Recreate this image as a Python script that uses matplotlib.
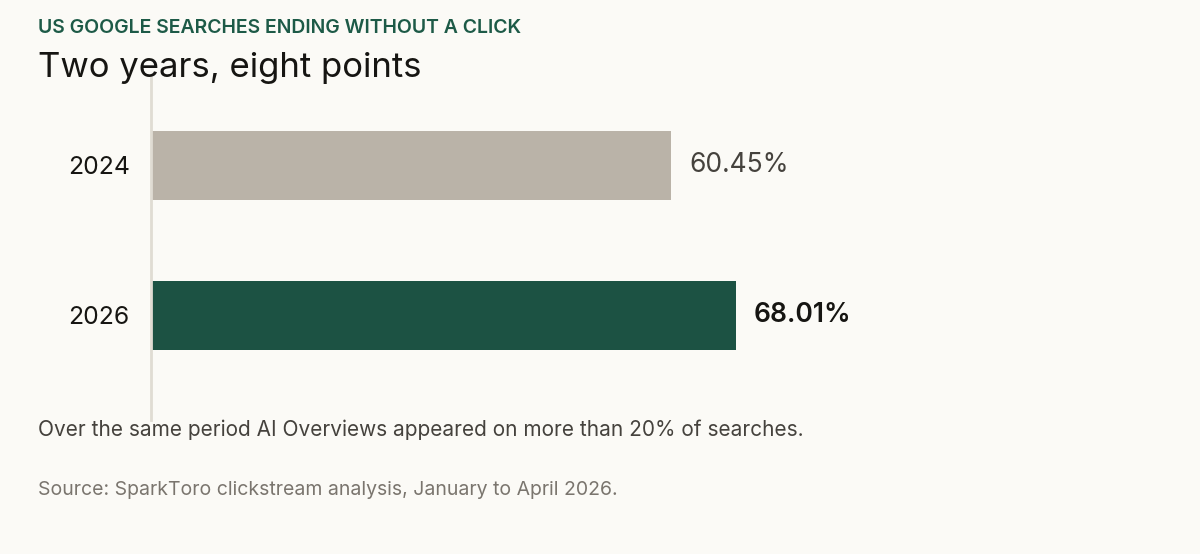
import matplotlib.pyplot as plt
import numpy as np

plt.rcParams['font.family'] = ['Inter', 'DejaVu Sans']

years = ['2024', '2026']
shares = [60.45, 68.01]
bar_colors = ['#bab3a8', '#1c5243']
label_colors = ['#45423d', '#161512']
label_weights = ['normal', 'semibold']

bg = '#fbfaf6'
fig = plt.figure(figsize=(12, 5.54), dpi=100, facecolor=bg)
ax = fig.add_axes([152 / 1200, 134 / 554, 858.6 / 1200, 342 / 554])
ax.set_facecolor(bg)

# spine first, moving it resets the tick labels
for side in ['top', 'right', 'bottom']:
    ax.spines[side].set_visible(False)
ax.spines['left'].set_position(('outward', 1))
ax.spines['left'].set_color('#e0dcd3')
ax.spines['left'].set_linewidth(2)

pos = np.arange(len(years))
ax.barh(pos, shares, height=0.46, color=bar_colors)
ax.set_xlim(0, 100)
ax.set_ylim(1.697, -0.583)

for i, v in enumerate(shares):
    ax.annotate(f'{v:.2f}%', xy=(v, pos[i]), xytext=(13, 0), textcoords='offset points',
                va='center', ha='left', fontsize=19, color=label_colors[i],
                fontweight=label_weights[i])

ax.set_yticks(pos)
ax.set_yticklabels(years, fontsize=17.8, color='#161512')
ax.tick_params(axis='y', length=0, pad=15)
ax.set_xticks([])

fig.text(38 / 1200, 1 - 33 / 554, 'US GOOGLE SEARCHES ENDING WITHOUT A CLICK',
         fontsize=14, fontweight='semibold', color='#1d5a47', va='baseline')
fig.text(38 / 1200, 1 - 77 / 554, 'Two years, eight points',
         fontsize=25, color='#161512', va='baseline')
fig.text(38 / 1200, 1 - 436 / 554,
         'Over the same period AI Overviews appeared on more than 20% of searches.',
         fontsize=15, color='#45423d', va='baseline')
fig.text(38 / 1200, 1 - 495 / 554, 'Source: SparkToro clickstream analysis, January to April 2026.',
         fontsize=14, color='#7a756e', va='baseline')

fig.savefig('out.png', dpi=100, facecolor=bg)
